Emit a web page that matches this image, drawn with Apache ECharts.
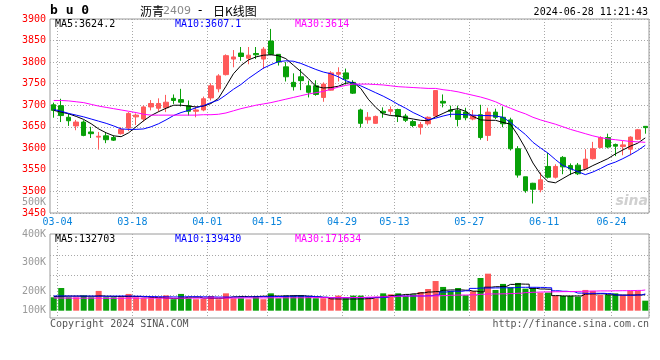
<!DOCTYPE html>
<html><head><meta charset="utf-8">
<script src="https://cdn.jsdelivr.net/npm/echarts@6/dist/echarts.min.js"></script>
<style>html,body{margin:0;padding:0;background:#fff}#c{width:660px;height:360px}</style>
</head><body><div id="c"></div>
<script>
const dates = ['03-01','03-04','03-05','03-06','03-07','03-08','03-11','03-12','03-13','03-14','03-15','03-18','03-19','03-20','03-21','03-22','03-25','03-26','03-27','03-28','03-29',
'04-01','04-02','04-03','04-08','04-09','04-10','04-11','04-12','04-15','04-16','04-17','04-18','04-19','04-22','04-23','04-24','04-25','04-26','04-29','04-30',
'05-06','05-07','05-08','05-09','05-10','05-13','05-14','05-15','05-16','05-17','05-20','05-21','05-22','05-23','05-24','05-27','05-28','05-29','05-30','05-31',
'06-03','06-04','06-05','06-06','06-07','06-11','06-12','06-13','06-14','06-17','06-18','06-19','06-20','06-21','06-24','06-25','06-26','06-27','06-28'];

const opens  = [3701,3699,3672,3652,3661,3638,3626,3629,3625,3634,3647,3673,3668,3696,3693,3694,3716,3713,3699,3686,3689,3717,3738,3771,3807,3821,3809,3820,3807,3849,3818,3789,3753,3766,3745,3745,3718,3735,3772,3775,3753,3689,3666,3658,3686,3686,3690,3675,3662,3649,3657,3675,3709,3689,3688,3684,3668,3678,3630,3684,3672,3666,3599,3534,3519,3504,3558,3533,3579,3560,3561,3553,3576,3602,3625,3609,3604,3598,3621,3651];
const closes = [3688,3676,3664,3661,3630,3634,3628,3620,3619,3644,3681,3677,3696,3704,3704,3707,3711,3707,3686,3689,3715,3745,3768,3815,3812,3813,3816,3817,3830,3818,3800,3766,3743,3757,3730,3725,3749,3775,3776,3761,3728,3658,3672,3674,3682,3690,3674,3665,3653,3655,3672,3734,3705,3686,3667,3671,3676,3625,3684,3672,3657,3599,3538,3502,3505,3527,3533,3558,3557,3552,3541,3575,3599,3625,3603,3605,3608,3626,3643,3648];
const lows   = [3671,3661,3652,3642,3628,3624,3597,3612,3617,3632,3640,3654,3662,3688,3685,3684,3703,3697,3676,3672,3686,3711,3730,3769,3788,3803,3795,3807,3784,3816,3792,3755,3734,3735,3718,3722,3708,3734,3755,3748,3726,3648,3657,3657,3671,3678,3661,3661,3649,3632,3653,3673,3695,3672,3651,3665,3665,3620,3617,3668,3649,3595,3532,3497,3472,3498,3530,3530,3540,3538,3538,3551,3574,3600,3600,3582,3584,3584,3619,3634];
const highs  = [3706,3715,3680,3666,3665,3650,3638,3636,3630,3649,3684,3681,3699,3712,3716,3724,3725,3738,3711,3697,3720,3751,3772,3818,3828,3835,3835,3835,3835,3877,3818,3800,3774,3784,3757,3758,3753,3779,3788,3785,3758,3692,3684,3676,3695,3697,3692,3680,3666,3661,3674,3735,3725,3699,3699,3694,3689,3701,3694,3692,3697,3671,3605,3534,3520,3544,3589,3563,3582,3565,3566,3598,3615,3628,3634,3611,3617,3628,3645,3651];

const ma5  = [3688,3684,3680,3674,3667,3657,3645,3636,3629,3627,3636,3650,3664,3676,3685,3693,3700,3700,3698,3696,3698,3704,3716,3744,3773,3792,3805,3812,3816,3817,3815,3808,3793,3778,3762,3744,3740,3741,3744,3751,3753,3739,3714,3695,3680,3676,3675,3671,3668,3665,3664,3673,3681,3689,3692,3686,3674,3666,3665,3665,3660,3656,3630,3600,3566,3540,3523,3520,3530,3540,3547,3551,3560,3568,3576,3587,3596,3605,3612,3624.2];
const ma10 = [3690,3686,3681,3677,3673,3668,3663,3658,3652,3645,3644,3644,3645,3650,3657,3666,3676,3683,3688,3694,3699,3706,3712,3724,3737,3748,3762,3774,3786,3794,3801,3803,3802,3797,3790,3783,3777,3773,3766,3757,3751,3745,3737,3729,3721,3712,3702,3693,3683,3675,3666,3670,3675,3679,3679,3678,3677,3676,3676,3675,3672,3660,3646,3632,3614,3601,3589,3574,3560,3553,3546,3539,3545,3553,3562,3568,3576,3585,3595,3607.1];
const ma30 = [3711,3711,3710,3708,3706,3702,3698,3695,3692,3689,3686,3683,3679,3677,3677,3677,3677,3677,3677,3677,3678,3678,3679,3682,3687,3692,3696,3700,3703,3706,3710,3714,3718,3722,3726,3729,3732,3737,3742,3746,3749,3749,3749,3748,3747,3745,3743,3742,3741,3740,3739,3739,3736,3734,3731,3727,3723,3719,3714,3708,3700,3693,3686,3680,3672,3666,3661,3656,3650,3644,3639,3634,3629,3625,3622,3620,3618,3616,3615,3614];

// volume in thousands
const volumes = [111,188,111,111,127,111,164,111,111,111,139,111,103,103,103,127,95,139,103,95,97,122,95,144,103,103,95,116,95,144,103,125,124,130,116,103,103,103,125,103,125,125,103,103,144,136,144,122,136,155,180,246,197,163,188,128,161,271,307,172,222,194,230,183,186,150,150,122,122,122,116,172,164,130,130,144,130,164,164,83];
const volMa5 = [118,120,121,121,120,120,123,120,118,117,119,118,114,110,108,104,100,105,112,112,104,103,103,108,115,118,116,118,120,122,121,123,125,124,120,114,110,
98,97,97,97,98,100,110,118,125,130,135,140,148,155,158,170,172,172,170,162,156,195,199,202,218,221,220,185,180,178,125,122,122,122,138,139,140,132,130,130,130,131,132.703];
const volMa10 = [122,122,121,121,121,121,120,120,121,122,121,120,118,117,116,115,114,115,116,116,115,114,113,113,113,113,114,115,116,117,118,119,120,120,119,116,112,
108,108,108,108,108,108,108,110,118,122,122,122,122,124,130,155,161,161,165,185,188,188,189,190,190,194,194,194,193,190,165,161,158,146,144,144,144,142,130,128,128,130,139.43];
const volMa30 = [105,105,104,104,104,104,103,103,103,103,104,104,104,104,104,104,104,104,104,104,104,
105,105,105,105,106,106,106,106,107,107,107,107,107,108,108,108,
108,108,108,109,110,112,114,116,118,120,121,122,122,122,123,125,128,130,130,132,136,139,139,140,142,145,150,153,155,156,157,158,159,160,162,163,164,164,165,166,167,168,171.634];

const xTickLabels = ['03-04','03-18','04-01','04-15','04-29','05-13','05-27','06-11','06-24'];
const volAxisLabels = ['100K','200K','300K','400K','500K'];
const headerMA = ['MA5:3624.2','MA10:3607.1','MA30:3614'];
const volHeaderMA = ['MA5:132703','MA10:139430','MA30:171634'];

const mono = "'DejaVu Sans Mono', monospace";
const upColor = '#ff5a5a', downColor = '#08a008';
const gridLine = {color:'#a8a8a8', type:[1,2], width:1};
const volLabelValues = [6, 164, 404, 636];
const volGridValues = [130, 296, 462];

const candle = dates.map((d,i)=>[opens[i], closes[i], lows[i], highs[i]]);
const volData = volumes.map((v,i)=>({value:v, itemStyle:{color: closes[i]>=opens[i]?upColor:downColor}}));
const showTick = (idx, val) => xTickLabels.indexOf(val) >= 0;

const chart = echarts.init(document.getElementById('c'), null, {renderer:'canvas'});
const txt = (x,y,text,fill,font,align) => ({type:'text', x:x, y:y, silent:true, z:100,
  style:{text:text, fill:fill, font:font, textAlign:align||'left', align:align||'left', textVerticalAlign:'middle', verticalAlign:'middle'}});

chart.setOption({
  animation:false,
  backgroundColor:'#fff',
  grid:[
    {left:50, right:11, top:19, height:194, show:true, borderColor:'#9a9a9a', borderWidth:1},
    {left:50, right:11, top:234, height:84, show:true, borderColor:'#9a9a9a', borderWidth:1}
  ],
  xAxis:[
    {type:'category', gridIndex:0, data:dates, boundaryGap:true,
     axisLine:{show:false}, axisTick:{show:false},
     axisLabel:{interval:showTick, color:'#0a84dc', fontFamily:mono, fontSize:10, margin:4, padding:[0,7.5,0,0]},
     splitLine:{show:true, interval:showTick, lineStyle:gridLine}},
    {type:'category', gridIndex:1, data:dates, boundaryGap:true,
     axisLine:{show:false}, axisTick:{show:false}, axisLabel:{show:false},
     splitLine:{show:true, interval:showTick, lineStyle:gridLine}}
  ],
  yAxis:[
    {type:'value', gridIndex:0, min:3450, max:3900, interval:50,
     axisLine:{show:false}, axisTick:{show:false},
     axisLabel:{color:'#ff0000', fontFamily:mono, fontSize:10, margin:4, padding:[0,0,5,0], formatter:(v)=>String(v)},
     splitLine:{show:true, lineStyle:gridLine}},
    {type:'value', gridIndex:1, min:-60.6, max:636,
     axisLine:{show:false}, axisTick:{show:false, customValues:volGridValues},
     axisLabel:{customValues:volLabelValues, color:'#9a9a9a', fontFamily:mono, fontSize:10, margin:4,
       formatter:(v)=>{const k=volLabelValues.indexOf(v); return k>=0?volAxisLabels[k]:'';}},
     splitLine:{show:true, lineStyle:gridLine}}
  ],
  series:[
    {type:'candlestick', xAxisIndex:0, yAxisIndex:0, data:candle, barWidth:5,
     itemStyle:{color:upColor, color0:downColor, borderColor:upColor, borderColor0:downColor, borderWidth:1}},
    {type:'line', xAxisIndex:0, yAxisIndex:0, data:ma5, symbol:'none', z:5, lineStyle:{color:'#000', width:1}, itemStyle:{color:'#000'}},
    {type:'line', xAxisIndex:0, yAxisIndex:0, data:ma10, symbol:'none', z:5, lineStyle:{color:'#0000ff', width:1}, itemStyle:{color:'#0000ff'}},
    {type:'line', xAxisIndex:0, yAxisIndex:0, data:ma30, symbol:'none', z:5, lineStyle:{color:'#ff00ff', width:1}, itemStyle:{color:'#ff00ff'}},
    {type:'bar', xAxisIndex:1, yAxisIndex:1, data:volData, barWidth:6},
    {type:'line', xAxisIndex:1, yAxisIndex:1, data:volMa5, step:'middle', symbol:'none', z:5, lineStyle:{color:'#000', width:1}},
    {type:'line', xAxisIndex:1, yAxisIndex:1, data:volMa10, step:'middle', symbol:'none', z:5, lineStyle:{color:'#0000ff', width:1}},
    {type:'line', xAxisIndex:1, yAxisIndex:1, data:volMa30, step:'middle', symbol:'none', z:5, lineStyle:{color:'#ff00ff', width:1}}
  ],
  graphic:[
    txt(50, 11, 'b u 0', '#000', "bold 13px 'DejaVu Sans Mono'"),
    txt(140, 11, '沥青', '#000', "12px 'Noto Sans CJK SC'"),
    txt(163, 11, '2409', '#888', "11px 'DejaVu Sans'"),
    txt(198, 11, '-', '#000', "12px 'DejaVu Sans'"),
    txt(213, 11, '日K线图', '#000', "12px 'Noto Sans CJK SC'"),
    txt(648, 12, '2024-06-28 11:21:43', '#000', "10px 'DejaVu Sans Mono'", 'right'),
    txt(55, 24, headerMA[0], '#000', "10px 'DejaVu Sans Mono'"),
    txt(175, 24, headerMA[1], '#0000ff', "10px 'DejaVu Sans Mono'"),
    txt(295, 24, headerMA[2], '#ff00ff', "10px 'DejaVu Sans Mono'"),
    txt(55, 239, volHeaderMA[0], '#000', "10px 'DejaVu Sans Mono'"),
    txt(175, 239, volHeaderMA[1], '#0000ff', "10px 'DejaVu Sans Mono'"),
    txt(295, 239, volHeaderMA[2], '#ff00ff', "10px 'DejaVu Sans Mono'"),
    txt(46, 202, volAxisLabels[4], '#9a9a9a', "10px 'DejaVu Sans Mono'", 'right'),
    txt(50, 324, 'Copyright 2024 SINA.COM', '#555', "10px 'DejaVu Sans Mono'"),
    txt(649, 324, 'http://finance.sina.com.cn', '#555', "10px 'DejaVu Sans Mono'", 'right'),
    txt(648, 201, 'sina', '#d0d0d0', "italic bold 14px 'DejaVu Sans'", 'right')
  ]
});
</script>
</body></html>
